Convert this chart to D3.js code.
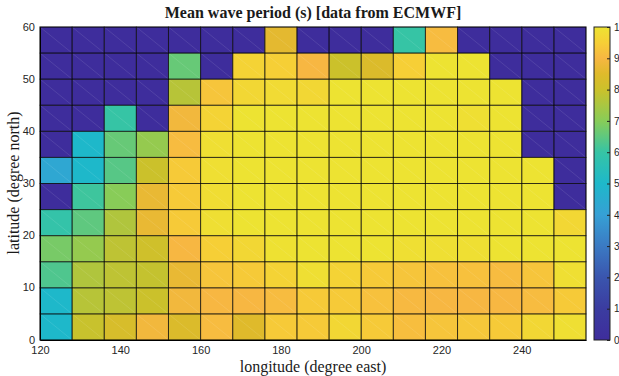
<!DOCTYPE html>
<html><head><meta charset="utf-8">
<script src="https://cdn.jsdelivr.net/npm/d3@7"></script>
<style>body{margin:0;background:#fff}svg{display:block}</style>
</head><body>
<svg id="c" width="619" height="376"></svg>
<script>
// Longitude cell edges (degree east), latitude cell edges (degree north)
const lonEdges = [120,128,136,144,152,160,168,176,184,192,200,208,216,224,232,240,248,256];
const latEdges = [0,5,10,15,20,25,30,35,40,45,50,55,60];
const xTicks = [120,140,160,180,200,220,240];
const yTicks = [0,10,20,30,40,50,60];
const cTicks = [0,1,2,3,4,5,6,7,8,9,10];
// Mean wave period (s); rows from latitude 55-60 (top) down to 0-5 (bottom); 0 = land
const row55 = [0,0,0,0,0,0,0,8.6,0,0,0,6.0,9.1,0,0,0,0];
const row50 = [0,0,0,0,6.6,0,9.6,9.5,9.0,8.0,8.4,9.5,10,10,0,0,0];
const row45 = [0,0,0,0,7.7,9.3,9.7,9.8,9.7,10,10,10,10,10,10,0,0];
const row40 = [0,0,6.0,0,8.9,9.6,10,10,10,10,10,10,10,9.9,10,0,0];
const row35 = [0,5.0,6.6,7.2,9.1,9.9,10,10,10,10,10,10,10,10,10,0,0];
const row30 = [4.3,5.0,6.4,8.0,9.4,9.9,10,10,10,10,10,10,10,10,10,10,0];
const row25 = [0,6.1,7.0,8.7,9.4,9.85,10,10,10,10,10,10,10,10,10,10,0];
const row20 = [5.9,6.5,7.6,8.7,9.4,9.9,10,10,10,10,10,10,10,10,10,10,9.7];
const row15 = [6.8,7.2,7.8,8.1,9.0,9.5,9.7,9.95,10,10,10,9.9,9.9,9.9,10,10,10];
const row10 = [6.3,7.6,7.8,7.9,8.7,9.3,9.4,9.6,9.9,9.6,9.4,9.3,9.2,9.2,9.1,9.3,9.9];
const row5  = [5.0,7.7,7.8,8.0,8.9,9.0,9.0,9.1,9.4,9.4,9.2,9.05,9.0,9.0,9.0,9.1,9.4];
const row0  = [5.0,7.95,8.3,8.9,8.4,9.1,8.5,9.4,9.4,9.7,9.4,9.15,9.3,9.35,9.4,9.7,9.9];
const rows = [row55,row50,row45,row40,row35,row30,row25,row20,row15,row10,row5,row0];
// colour map stops (value -> colour)
const stopVals = [0,1,2,3,4,5,6,7,8,8.5,9,9.5,10];
const stopCols = ["#3e2d9c","#3b3ca0","#3a55ae","#3b7ac3","#36a0d5","#1eb8ca","#36c4a5","#88cc58","#cbc12b","#dfba2b","#f7b742","#f6cf36","#ede332"];

const svg = d3.select("#c");
const x = d3.scaleLinear().domain([120,256]).range([40,586]);
const y = d3.scaleLinear().domain([0,60]).range([340,27]);
const col = d3.scaleLinear().domain(stopVals).range(stopCols).interpolate(d3.interpolateRgb);

const cells = [];
rows.forEach((r,i)=>{
  const lat0 = latEdges[latEdges.length-2-i], lat1 = latEdges[latEdges.length-1-i];
  r.forEach((v,j)=>cells.push({lon0:lonEdges[j],lon1:lonEdges[j+1],lat0,lat1,v}));
});

const g = svg.append("g");
g.selectAll("rect.cell").data(cells).join("rect")
  .attr("x",d=>x(d.lon0)).attr("y",d=>y(d.lat1))
  .attr("width",d=>x(d.lon1)-x(d.lon0)).attr("height",d=>y(d.lat0)-y(d.lat1))
  .attr("fill",d=>col(d.v));
// faint diagonals
g.selectAll("line.diag").data(cells).join("line")
  .attr("x1",d=>x(d.lon0)).attr("y1",d=>y(d.lat1))
  .attr("x2",d=>x(d.lon1)).attr("y2",d=>y(d.lat0))
  .attr("stroke","#fff").attr("stroke-opacity",0.2).attr("stroke-width",0.5);
// cell borders
g.selectAll("rect.edge").data(cells).join("rect")
  .attr("x",d=>x(d.lon0)).attr("y",d=>y(d.lat1))
  .attr("width",d=>x(d.lon1)-x(d.lon0)).attr("height",d=>y(d.lat0)-y(d.lat1))
  .attr("fill","none").attr("stroke","#000").attr("stroke-opacity",0.55).attr("stroke-width",1);

// axes
const tickFont = "'Liberation Sans', Arial, sans-serif";
const xa = svg.append("g").attr("transform","translate(0,340)")
  .call(d3.axisBottom(x).tickValues(xTicks).tickSize(0).tickPadding(6));
const ya = svg.append("g").attr("transform","translate(40,0)")
  .call(d3.axisLeft(y).tickValues(yTicks).tickSize(0).tickPadding(5));
[xa,ya].forEach(a=>{
  a.select(".domain").attr("stroke","#000").attr("stroke-width",1);
  a.selectAll("text").attr("font-family",tickFont).attr("font-size",11).attr("fill","#262626");
});
ya.selectAll("text").attr("dy","0.28em");
svg.append("rect").attr("x",40).attr("y",27).attr("width",546).attr("height",313)
  .attr("fill","none").attr("stroke","#000").attr("stroke-opacity",0.7).attr("stroke-width",1);

// title & labels
svg.append("text").attr("x",313).attr("y",18).attr("text-anchor","middle")
  .attr("font-family","'Liberation Serif','Times New Roman',serif").attr("font-weight","bold")
  .attr("font-size",16).attr("fill","#1a1a1a").text("Mean wave period (s) [data from ECMWF]");
svg.append("text").attr("x",313).attr("y",372).attr("text-anchor","middle")
  .attr("font-family","'Liberation Serif','Times New Roman',serif")
  .attr("font-size",16).attr("fill","#1a1a1a").text("longitude (degree east)");
svg.append("text").attr("transform","translate(19,183) rotate(-90)").attr("text-anchor","middle")
  .attr("font-family","'Liberation Serif','Times New Roman',serif")
  .attr("font-size",16).attr("fill","#1a1a1a").text("latitude (degree north)");

// colour bar
const cb = d3.scaleLinear().domain([0,10]).range([340,27]);
const defs = svg.append("defs");
const lg = defs.append("linearGradient").attr("id","cbg").attr("x1",0).attr("y1",1).attr("x2",0).attr("y2",0);
stopVals.forEach((v,i)=>lg.append("stop").attr("offset",v/10).attr("stop-color",stopCols[i]));
svg.append("rect").attr("x",594).attr("y",27).attr("width",16).attr("height",313)
  .attr("fill","url(#cbg)").attr("stroke","#222").attr("stroke-width",1);
const ca = svg.append("g").attr("transform","translate(610,0)")
  .call(d3.axisRight(cb).tickValues(cTicks).tickSize(-3).tickPadding(4).tickFormat(d3.format("d")));
ca.select(".domain").remove();
ca.selectAll("line").attr("stroke","#222");
ca.selectAll("text").attr("font-family",tickFont).attr("font-size",10).attr("fill","#262626");
</script>
</body></html>
